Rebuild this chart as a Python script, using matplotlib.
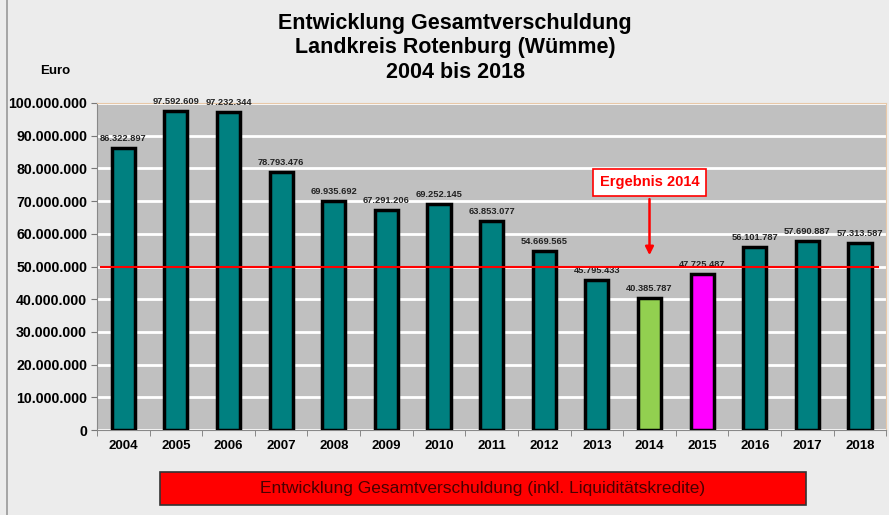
import matplotlib.pyplot as plt
from matplotlib.patches import Rectangle
import numpy as np

plt.rcParams["font.family"] = ["Liberation Sans", "DejaVu Sans"]

years = ["2004", "2005", "2006", "2007", "2008", "2009", "2010", "2011",
         "2012", "2013", "2014", "2015", "2016", "2017", "2018"]
debt = [86322897, 97592609, 97232344, 78793476, 69935692, 67291206, 69252145,
        63853077, 54669565, 45795433, 40385787, 47725487, 56101787, 57690887,
        57313587]
bar_colors = ["#008080"] * 10 + ["#92d050", "#ff00ff"] + ["#008080"] * 3
reference_line = 50000000


def fmt(v):
    return f"{v:,.0f}".replace(",", ".")


fig = plt.figure(figsize=(8.89, 5.15), dpi=100, facecolor="#ececec")
ax = fig.add_axes([0.109, 0.165, 0.888, 0.635])
ax.set_facecolor("#c0c0c0")

x = np.arange(len(years))
ax.bar(x, debt, width=0.44, color=bar_colors, edgecolor="black",
       linewidth=2.5, zorder=3)

for xi, v in zip(x, debt):
    ax.text(xi, v + 1500000, fmt(v), ha="center", va="bottom",
            fontsize=6.7, fontweight="bold", color="#222222", zorder=4)

ax.axhline(reference_line, color="#ff0000", linewidth=1.5, zorder=5,
           xmin=0.005, xmax=0.99)

ax.set_xlim(-0.5, len(years) - 0.5)
ax.set_ylim(0, 100000000)
ax.set_yticks(np.arange(0, 100000001, 10000000))
ax.set_yticklabels([fmt(t) for t in ax.get_yticks()], fontsize=10.2,
                   fontweight="bold")
ax.set_xticks(x)
ax.set_xticklabels(years, fontsize=9.5, fontweight="bold")
ax.set_xticks(np.arange(-0.5, len(years)), minor=True)
ax.tick_params(axis="x", which="major", length=0, pad=7)
ax.tick_params(axis="x", which="minor", length=4, color="#777777")
ax.tick_params(axis="y", length=4, color="#777777", pad=3)
ax.yaxis.grid(True, color="white", linewidth=2, zorder=1)
for s in ["left", "bottom"]:
    ax.spines[s].set_color("#888888")
for s in ["top", "right"]:
    ax.spines[s].set_color("#e8c8a8")

ax.annotate("Ergebnis 2014", xy=(10, 52600000), xytext=(10, 75800000),
            ha="center", va="center", fontsize=10.5, fontweight="bold",
            color="#ff0000", zorder=6,
            bbox=dict(boxstyle="square,pad=0.45", facecolor="white",
                      edgecolor="#ff0000", linewidth=1.2),
            arrowprops=dict(arrowstyle="-|>", color="#ff0000", lw=1.8,
                            mutation_scale=12))

fig.text(0.512, 0.955, "Entwicklung Gesamtverschuldung", ha="center",
         va="center", fontsize=15.5, fontweight="bold")
fig.text(0.512, 0.907, "Landkreis Rotenburg (Wümme)", ha="center",
         va="center", fontsize=15.5, fontweight="bold")
fig.text(0.512, 0.859, "2004 bis 2018", ha="center", va="center",
         fontsize=15.5, fontweight="bold")
fig.text(0.062, 0.863, "Euro", ha="center", va="center", fontsize=9.5,
         fontweight="bold")

fig.add_artist(Rectangle((0.18, 0.02), 0.727, 0.064, transform=fig.transFigure,
                         facecolor="#ff0000", edgecolor="#333333",
                         linewidth=1.2))
fig.text(0.543, 0.052, "Entwicklung Gesamtverschuldung (inkl. Liquiditätskredite)",
         ha="center", va="center", fontsize=12.5, color="#4a0000")
fig.add_artist(plt.Line2D([0.008, 0.008], [0.0, 1.0], color="#999999",
                          linewidth=1.2))

fig.savefig("out.png", dpi=100, facecolor=fig.get_facecolor())
